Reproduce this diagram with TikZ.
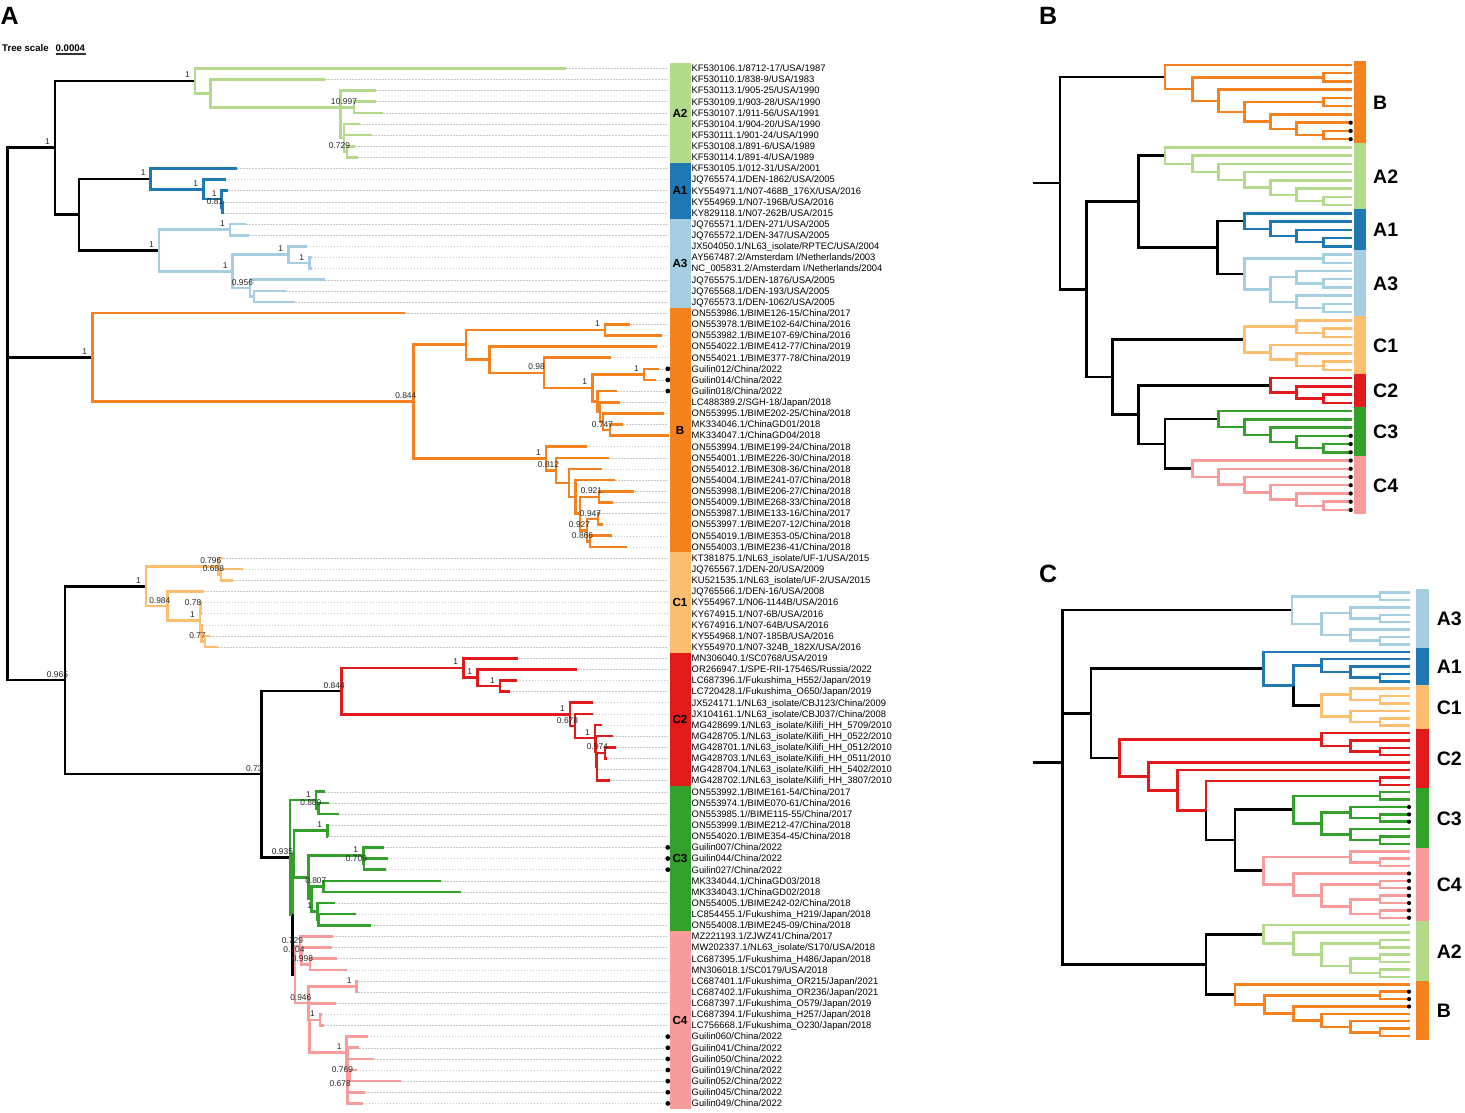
\documentclass[tikz,border=0pt]{standalone}
\usepackage{fontspec}
\setmainfont{Liberation Sans}
\usetikzlibrary{calc}
\definecolor{colA2}{HTML}{B2DA8A}
\definecolor{colA1}{HTML}{1F78B4}
\definecolor{colA3}{HTML}{A6CEE3}
\definecolor{colB}{HTML}{F5821F}
\definecolor{colC1}{HTML}{FDBF6F}
\definecolor{colC2}{HTML}{E31A1C}
\definecolor{colC3}{HTML}{33A02C}
\definecolor{colC4}{HTML}{F79C9A}
\newcommand\tnode[4]{\path let \p1=($(#3)!0.5!(#4)$) in (#2pt,\y1) coordinate (#1);}
\newcommand\edges[3]{\foreach \ch in {#3} \draw[#1] (#2) |- (\ch);}
\newcommand\la[2]{\coordinate (a#1) at (#2,{68.3+11.13*#1});}
\newcommand\lab[2]{\node[lbl] (t#1) at (691.5,{68.3+11.13*#1+3.35}) {#2};}
\newcommand\bs[2]{\node[bsl] (s#1) at ($(#1)+(-7.5,-3)$) {#2};}
\newcommand\gA[4]{\fill[#1] (669.5,{68.3+11.13*#2-5.565}) rectangle (690.5,{68.3+11.13*#3+5.565});
  \node[gla] (lbA#4) at (680,{68.3+11.13*(#2+#3)/2+4.2}) {#4};}
\newcommand\gB[4]{\fill[#1] (1354,{65+8.24*#2-4.12}) rectangle (1365.5,{65+8.24*#3+4.12});
  \node[glb] (lbB#4) at (1373,{65+8.24*(#2+#3)/2+7}) {#4};}
\newcommand\gC[4]{\fill[#1] (1416,{592.67+7.389*#2-3.69}) rectangle (1429,{592.67+7.389*#3+3.69});
  \node[glb] (lbC#4) at (1436.7,{592.67+7.389*(#2+#3)/2+7}) {#4};}
\begin{document}
\begin{tikzpicture}[x=1pt,y=-1pt,
  br/.style={line width=2.6pt},
  w2/.style={line width=2.5pt},
  bk/.style={br,black},
  eA2/.style={br,colA2}, eA1/.style={br,colA1}, eA3/.style={br,colA3},
  eB/.style={br,colB}, eC1/.style={br,colC1}, eC2/.style={br,colC2},
  eC3/.style={br,colC3}, eC4/.style={br,colC4},
  lead/.style={draw=black!22,line width=0.5pt,dash pattern=on 1.5pt off 1.5pt},
  lbl/.style={anchor=base west,inner sep=0pt,font=\fontsize{9.4}{11}\selectfont},
  bsl/.style={anchor=base,inner sep=0pt,text=black!85,font=\fontsize{8.4}{10}\selectfont},
  gla/.style={anchor=base,inner sep=0pt,font=\fontsize{11.7}{14}\selectfont\bfseries},
  glb/.style={anchor=base west,inner sep=0pt,font=\fontsize{19.5}{22}\selectfont\bfseries},
  pan/.style={anchor=base west,inner sep=0pt,font=\fontsize{25}{28}\selectfont\bfseries},
  dot/.style={fill=black}]
\useasboundingbox (0,0) rectangle (1465,1112);
\fill[white] (0,0) rectangle (1465,1112);
% ---------------- panel letters and scale
\node[pan] (pA) at (0.5,24) {A};
\node[pan] (pB) at (1039,24) {B};
\node[pan] (pC) at (1039,582) {C};
\node[anchor=base west,inner sep=0pt,font=\fontsize{9.6}{11}\selectfont\bfseries] (ts) at (2,51.5) {Tree scale};
\node[anchor=base west,inner sep=0pt,font=\fontsize{9.6}{11}\selectfont\bfseries] (tsv) at (55.5,51.5) {0.0004};
\coordinate (tsa) at (55.5,54);
\coordinate (tsb) at (86,54);
\draw[line width=1.5pt,black!80] (tsa) -- (tsb);
% ================= PANEL A leaves
\la{0}{566}\la{1}{325}\la{2}{376}\la{3}{376}\la{4}{383}\la{5}{360}\la{6}{372}\la{7}{355}\la{8}{358}
\la{9}{237.3}\la{10}{225.7}\la{11}{228.3}\la{12}{224}\la{13}{224}
\la{14}{246}\la{15}{249}\la{16}{306.7}\la{17}{311.7}\la{18}{311.7}\la{19}{325}\la{20}{286}\la{21}{295}
\la{22}{405}\la{23}{630}\la{24}{661.7}\la{25}{656.7}\la{26}{610.7}\la{27}{659.3}\la{28}{656}\la{29}{617.3}\la{30}{620}\la{31}{664.3}\la{32}{623.3}\la{33}{669}\la{34}{586.7}\la{35}{609.3}\la{36}{601.7}\la{37}{615}\la{38}{634}\la{39}{613.3}\la{40}{600}\la{41}{602.7}\la{42}{611.7}\la{43}{626.7}
\la{44}{223.3}\la{45}{242.7}\la{46}{233.3}\la{47}{204}\la{48}{201.5}\la{49}{201.5}\la{50}{202.5}\la{51}{210}\la{52}{218.3}
\la{53}{518.3}\la{54}{577.3}\la{55}{516.7}\la{56}{510}\la{57}{592.7}\la{58}{592.7}\la{59}{601.7}\la{60}{613.3}\la{61}{616}\la{62}{607.3}\la{63}{598}\la{64}{610}
\la{65}{325}\la{66}{329.3}\la{67}{339}\la{68}{329.3}\la{69}{328.3}\la{70}{384}\la{71}{387.7}\la{72}{385.7}\la{73}{441}\la{74}{461}\la{75}{335}\la{76}{355.7}\la{77}{371}
\la{78}{333.3}\la{79}{332.3}\la{80}{337.3}\la{81}{346.7}\la{82}{358.3}\la{83}{358.3}\la{84}{336}\la{85}{321.7}\la{86}{324}\la{87}{367.7}\la{88}{359.3}\la{89}{374}\la{90}{356.7}\la{91}{401}\la{92}{365.3}\la{93}{362.7}
% leaders
\foreach \i in {0,...,32} \draw[lead] (a\i) -- (668,{68.3+11.13*\i});
\foreach \i in {34,...,93} \draw[lead] (a\i) -- (668,{68.3+11.13*\i});
% internal nodes
\tnode{A2h}{347}{a7}{a8}
\tnode{A2e}{344}{a5}{A2h}
\tnode{A2f}{354}{a3}{a4}
\coordinate (A2c) at (340.6,107.3);
\tnode{A2b}{210.5}{a1}{A2c}
\tnode{A2}{195}{a0}{A2b}
\tnode{A1d}{222.5}{a12}{a13}
\tnode{A1c}{221.7}{a11}{A1d}
\tnode{A1b}{203.3}{a10}{A1c}
\tnode{A1}{150.7}{a9}{A1b}
\tnode{A3f}{254}{a20}{a21}
\tnode{A3d}{250}{a19}{A3f}
\tnode{A3e}{309.3}{a17}{a18}
\tnode{A3c}{288.3}{a16}{A3e}
\tnode{A3b}{232.7}{A3c}{A3d}
\tnode{A3a}{230}{a14}{a15}
\tnode{A3}{159}{A3a}{A3b}
\tnode{A13}{79}{A1}{A3}
\tnode{AA}{55}{A2}{A13}
\tnode{Bu9}{610}{a32}{a33}
\tnode{Bu8}{603}{a31}{Bu9}
\tnode{Bu7}{600}{a30}{Bu8}
\tnode{Bu6}{597.3}{a29}{Bu7}
\tnode{Bu5}{644}{a27}{a28}
\tnode{Bu4}{592.3}{Bu5}{Bu6}
\tnode{Bu3}{544}{a26}{Bu4}
\tnode{Bu2}{489.3}{a25}{Bu3}
\tnode{Bu1}{605}{a23}{a24}
\tnode{Bu}{466}{Bu1}{Bu2}
\tnode{N866}{590}{a42}{a43}
\tnode{N947}{598}{a40}{a41}
\tnode{Bl5}{587}{N947}{N866}
\tnode{N921}{599}{a38}{a39}
\tnode{Bl4}{580}{N921}{Bl5}
\tnode{Bl3}{575.7}{a37}{Bl4}
\tnode{Bl2}{569}{a36}{Bl3}
\tnode{Bl1}{556}{a35}{Bl2}
\tnode{Bl}{546}{a34}{Bl1}
\tnode{Bd}{413.3}{Bu}{Bl}
\tnode{BB}{92.3}{a22}{Bd}
\tnode{C1b}{221}{a45}{a46}
\tnode{C1a}{218.3}{a44}{C1b}
\tnode{N078}{200.5}{a48}{a49}
\tnode{N077}{205}{a51}{a52}
\tnode{C1f}{201.7}{a50}{N077}
\tnode{C1e}{200}{N078}{C1f}
\tnode{C1d}{167.3}{a47}{C1e}
\tnode{C1}{146}{C1a}{C1d}
\tnode{C2c}{500}{a55}{a56}
\tnode{C2b}{477.3}{a54}{C2c}
\tnode{C2a}{463.3}{a53}{C2b}
\tnode{N6162}{605}{a61}{a62}
\tnode{Yc2}{597}{N6162}{a64}
\tnode{Xc2}{596}{a60}{Yc2}
\tnode{C2f}{595}{a59}{Xc2}
\tnode{C2e}{575}{a58}{C2f}
\tnode{C2d}{570}{a57}{C2e}
\tnode{C2}{341.7}{C2a}{C2d}
\tnode{G1b}{318.3}{a66}{a67}
\tnode{G1}{316}{a65}{G1b}
\tnode{G2}{327.3}{a68}{a69}
\tnode{G3b}{364}{a71}{a72}
\tnode{G3}{363.3}{a70}{G3b}
\tnode{G4}{323.3}{a73}{a74}
\tnode{G5b}{318.5}{a76}{a77}
\tnode{G5}{317.3}{a75}{G5b}
\tnode{G6}{311.7}{G4}{G5}
\tnode{G7}{308.3}{G3}{G6}
\tnode{G8}{294}{G2}{G7}
\tnode{N998}{310}{a80}{a81}
\tnode{N704}{301.5}{a79}{N998}
\tnode{N729}{300}{a78}{N704}
\tnode{N1a}{356.7}{a82}{a83}
\tnode{N1b}{320}{a85}{a86}
\tnode{N769}{350}{a90}{a91}
\tnode{N678}{347.7}{N769}{a93}
\tnode{X4}{347.2}{a88}{N678}
\tnode{N1c}{346.7}{a87}{X4}
\tnode{Y2}{309.2}{N1b}{N1c}
\tnode{Y4}{308.8}{a84}{Y2}
\tnode{N946}{308.3}{N1a}{Y4}
\tnode{C4}{295}{N729}{N946}
\tnode{Z}{292.3}{G8}{C4}
\tnode{N935}{290}{G1}{Z}
\tnode{C234}{261.7}{C2}{N935}
\tnode{CC}{65}{C1}{C234}
\tnode{Rt}{7.3}{AA}{CC}
% edges: black backbone
\edges{bk}{Rt}{AA,BB,CC}
\edges{bk}{AA}{A2,A13}
\edges{bk}{A13}{A1,A3}
\edges{bk}{CC}{C1,C234}
\edges{bk}{C234}{C2,N935}
\edges{bk}{Z}{C4}
% A2
\edges{eA2}{A2}{a0,A2b}
\edges{eA2}{A2b}{a1,A2c}
\edges{eA2}{A2c}{a2,A2f,A2e}
\edges{eA2}{A2f}{a3,a4}
\edges{eA2}{A2e}{a5,a6,A2h}
\edges{eA2}{A2h}{a7,a8}
% A1
\edges{eA1}{A1}{a9,A1b}
\edges{eA1}{A1b}{a10,A1c}
\edges{eA1}{A1c}{a11,A1d}
\edges{eA1}{A1d}{a12,a13}
% A3
\edges{eA3}{A3}{A3a,A3b}
\edges{eA3}{A3a}{a14,a15}
\edges{eA3}{A3b}{A3c,A3d}
\edges{eA3}{A3c}{a16,A3e}
\edges{eA3}{A3e}{a17,a18}
\edges{eA3}{A3d}{a19,A3f}
\edges{eA3}{A3f}{a20,a21}
% B
\edges{eB}{BB}{a22,Bd}
\edges{eB}{Bd}{Bu,Bl}
\edges{eB}{Bu}{Bu1,Bu2}
\edges{eB}{Bu1}{a23,a24}
\edges{eB}{Bu2}{a25,Bu3}
\edges{eB}{Bu3}{a26,Bu4}
\edges{eB}{Bu4}{Bu5,Bu6}
\edges{eB}{Bu5}{a27,a28}
\edges{eB}{Bu6}{a29,Bu7}
\edges{eB}{Bu7}{a30,Bu8}
\edges{eB}{Bu8}{a31,Bu9}
\edges{eB}{Bu9}{a32,a33}
\edges{eB}{Bl}{a34,Bl1}
\edges{eB}{Bl1}{a35,Bl2}
\edges{eB}{Bl2}{a36,Bl3}
\edges{eB}{Bl3}{a37,Bl4}
\edges{eB}{Bl4}{N921,Bl5}
\edges{eB}{N921}{a38,a39}
\edges{eB}{Bl5}{N947,N866}
\edges{eB}{N947}{a40,a41}
\edges{eB}{N866}{a42,a43}
% C1
\edges{eC1}{C1}{C1a,C1d}
\edges{eC1}{C1a}{a44,C1b}
\edges{eC1}{C1b}{a45,a46}
\edges{eC1}{C1d}{a47,C1e}
\edges{eC1}{C1e}{N078,C1f}
\edges{eC1}{N078}{a48,a49}
\edges{eC1}{C1f}{a50,N077}
\edges{eC1}{N077}{a51,a52}
% C2
\edges{eC2}{C2}{C2a,C2d}
\edges{eC2}{C2a}{a53,C2b}
\edges{eC2}{C2b}{a54,C2c}
\edges{eC2}{C2c}{a55,a56}
\edges{eC2}{C2d}{a57,C2e}
\edges{eC2}{C2e}{a58,C2f}
\edges{eC2}{C2f}{a59,Xc2}
\edges{eC2}{Xc2}{a60,Yc2}
\edges{eC2}{Yc2}{N6162,a63,a64}
\edges{eC2}{N6162}{a61,a62}
% C3
\edges{eC3}{N935}{G1,Z}
\edges{eC3}{Z}{G8}
\edges{eC3}{G1}{a65,G1b}
\edges{eC3}{G1b}{a66,a67}
\edges{eC3}{G8}{G2,G7}
\edges{eC3}{G2}{a68,a69}
\edges{eC3}{G7}{G3,G6}
\edges{eC3}{G3}{a70,G3b}
\edges{eC3}{G3b}{a71,a72}
\edges{eC3}{G6}{G4,G5}
\edges{eC3}{G4}{a73,a74}
\edges{eC3}{G5}{a75,G5b}
\edges{eC3}{G5b}{a76,a77}
% C4
\edges{eC4}{C4}{N729,N946}
\edges{eC4}{N729}{a78,N704}
\edges{eC4}{N704}{a79,N998}
\edges{eC4}{N998}{a80,a81}
\edges{eC4}{N946}{N1a,Y4}
\edges{eC4}{N1a}{a82,a83}
\edges{eC4}{Y4}{a84,Y2}
\edges{eC4}{Y2}{N1b,N1c}
\edges{eC4}{N1b}{a85,a86}
\edges{eC4}{N1c}{a87,X4}
\edges{eC4}{X4}{a88,a89,N678}
\edges{eC4}{N678}{N769,a92,a93}
\edges{eC4}{N769}{a90,a91}
% support values
\bs{AA}{1}\bs{A2}{1}\bs{A2c}{1}\bs{A2f}{0.997}\bs{A2h}{0.729}
\bs{A1}{1}\bs{A1b}{1}\bs{A1c}{1}\bs{A1d}{0.81}
\bs{A3}{1}\bs{A3a}{1}\bs{A3b}{1}\bs{A3c}{1}\bs{A3e}{1}\bs{A3d}{0.956}
\bs{BB}{1}\bs{Bd}{0.844}\bs{Bu1}{1}\bs{Bu3}{0.98}\bs{Bu4}{1}\bs{Bu5}{1}\bs{Bu9}{0.747}
\bs{Bl}{1}\bs{Bl1}{0.812}\bs{N921}{0.921}\bs{N947}{0.947}\bs{Bl5}{0.927}\bs{N866}{0.866}
\bs{CC}{0.965}\bs{C1}{1}\bs{C1a}{0.796}\bs{C1b}{0.688}\bs{C1d}{0.984}\bs{N078}{0.78}\bs{C1e}{1}\bs{N077}{0.77}
\bs{C234}{0.73}\bs{C2}{0.844}\bs{C2a}{1}\bs{C2b}{1}\bs{C2c}{1}\bs{C2d}{1}\bs{C2e}{0.678}\bs{C2f}{1}\bs{N6162}{0.974}
\bs{N935}{0.935}\bs{G1}{1}\bs{G1b}{0.889}\bs{G2}{1}\bs{G3}{1}\bs{G3b}{0.709}\bs{G4}{0.807}\bs{G5}{1}
\bs{N729}{0.729}\bs{N704}{0.704}\bs{N998}{0.998}\bs{N946}{0.946}\bs{N1a}{1}\bs{N1b}{1}\bs{N1c}{1}\bs{N769}{0.769}\bs{N678}{0.678}
% bars
\gA{colA2}{0}{8}{A2}
\gA{colA1}{9}{13}{A1}
\gA{colA3}{14}{21}{A3}
\gA{colB}{22}{43}{B}
\gA{colC1}{44}{52}{C1}
\gA{colC2}{53}{64}{C2}
\gA{colC3}{65}{77}{C3}
\gA{colC4}{78}{93}{C4}
\foreach \i in {27,28,29,70,71,72,87,88,89,90,91,92,93} \fill[dot] (667.8,{68.3+11.13*\i}) circle (2.4);
% labels
\lab{0}{KF530106.1/8712-17/USA/1987}
\lab{1}{KF530110.1/838-9/USA/1983}
\lab{2}{KF530113.1/905-25/USA/1990}
\lab{3}{KF530109.1/903-28/USA/1990}
\lab{4}{KF530107.1/911-56/USA/1991}
\lab{5}{KF530104.1/904-20/USA/1990}
\lab{6}{KF530111.1/901-24/USA/1990}
\lab{7}{KF530108.1/891-6/USA/1989}
\lab{8}{KF530114.1/891-4/USA/1989}
\lab{9}{KF530105.1/012-31/USA/2001}
\lab{10}{JQ765574.1/DEN-1862/USA/2005}
\lab{11}{KY554971.1/N07-468B\_176X/USA/2016}
\lab{12}{KY554969.1/N07-196B/USA/2016}
\lab{13}{KY829118.1/N07-262B/USA/2015}
\lab{14}{JQ765571.1/DEN-271/USA/2005}
\lab{15}{JQ765572.1/DEN-347/USA/2005}
\lab{16}{JX504050.1/NL63\_isolate/RPTEC/USA/2004}
\lab{17}{AY567487.2/Amsterdam I/Netherlands/2003}
\lab{18}{NC\_005831.2/Amsterdam I/Netherlands/2004}
\lab{19}{JQ765575.1/DEN-1876/USA/2005}
\lab{20}{JQ765568.1/DEN-193/USA/2005}
\lab{21}{JQ765573.1/DEN-1062/USA/2005}
\lab{22}{ON553986.1/BIME126-15/China/2017}
\lab{23}{ON553978.1/BIME102-64/China/2016}
\lab{24}{ON553982.1/BIME107-69/China/2016}
\lab{25}{ON554022.1/BIME412-77/China/2019}
\lab{26}{ON554021.1/BIME377-78/China/2019}
\lab{27}{Guilin012/China/2022}
\lab{28}{Guilin014/China/2022}
\lab{29}{Guilin018/China/2022}
\lab{30}{LC488389.2/SGH-18/Japan/2018}
\lab{31}{ON553995.1/BIME202-25/China/2018}
\lab{32}{MK334046.1/ChinaGD01/2018}
\lab{33}{MK334047.1/ChinaGD04/2018}
\lab{34}{ON553994.1/BIME199-24/China/2018}
\lab{35}{ON554001.1/BIME226-30/China/2018}
\lab{36}{ON554012.1/BIME308-36/China/2018}
\lab{37}{ON554004.1/BIME241-07/China/2018}
\lab{38}{ON553998.1/BIME206-27/China/2018}
\lab{39}{ON554009.1/BIME268-33/China/2018}
\lab{40}{ON553987.1/BIME133-16/China/2017}
\lab{41}{ON553997.1/BIME207-12/China/2018}
\lab{42}{ON554019.1/BIME353-05/China/2018}
\lab{43}{ON554003.1/BIME236-41/China/2018}
\lab{44}{KT381875.1/NL63\_isolate/UF-1/USA/2015}
\lab{45}{JQ765567.1/DEN-20/USA/2009}
\lab{46}{KU521535.1/NL63\_isolate/UF-2/USA/2015}
\lab{47}{JQ765566.1/DEN-16/USA/2008}
\lab{48}{KY554967.1/N06-1144B/USA/2016}
\lab{49}{KY674915.1/N07-6B/USA/2016}
\lab{50}{KY674916.1/N07-64B/USA/2016}
\lab{51}{KY554968.1/N07-185B/USA/2016}
\lab{52}{KY554970.1/N07-324B\_182X/USA/2016}
\lab{53}{MN306040.1/SC0768/USA/2019}
\lab{54}{OR266947.1/SPE-RII-17546S/Russia/2022}
\lab{55}{LC687396.1/Fukushima\_H552/Japan/2019}
\lab{56}{LC720428.1/Fukushima\_O650/Japan/2019}
\lab{57}{JX524171.1/NL63\_isolate/CBJ123/China/2009}
\lab{58}{JX104161.1/NL63\_isolate/CBJ037/China/2008}
\lab{59}{MG428699.1/NL63\_isolate/Kilifi\_HH\_5709/2010}
\lab{60}{MG428705.1/NL63\_isolate/Kilifi\_HH\_0522/2010}
\lab{61}{MG428701.1/NL63\_isolate/Kilifi\_HH\_0512/2010}
\lab{62}{MG428703.1/NL63\_isolate/Kilifi\_HH\_0511/2010}
\lab{63}{MG428704.1/NL63\_isolate/Kilifi\_HH\_5402/2010}
\lab{64}{MG428702.1/NL63\_isolate/Kilifi\_HH\_3807/2010}
\lab{65}{ON553992.1/BIME161-54/China/2017}
\lab{66}{ON553974.1/BIME070-61/China/2016}
\lab{67}{ON553985.1//BIME115-55/China/2017}
\lab{68}{ON553999.1/BIME212-47/China/2018}
\lab{69}{ON554020.1/BIME354-45/China/2018}
\lab{70}{Guilin007/China/2022}
\lab{71}{Guilin044/China/2022}
\lab{72}{Guilin027/China/2022}
\lab{73}{MK334044.1/ChinaGD03/2018}
\lab{74}{MK334043.1/ChinaGD02/2018}
\lab{75}{ON554005.1/BIME242-02/China/2018}
\lab{76}{LC854455.1/Fukushima\_H219/Japan/2018}
\lab{77}{ON554008.1/BIME245-09/China/2018}
\lab{78}{MZ221193.1/ZJWZ41/China/2017}
\lab{79}{MW202337.1/NL63\_isolate/S170/USA/2018}
\lab{80}{LC687395.1/Fukushima\_H486/Japan/2018}
\lab{81}{MN306018.1/SC0179/USA/2018}
\lab{82}{LC687401.1/Fukushima\_OR215/Japan/2021}
\lab{83}{LC687402.1/Fukushima\_OR236/Japan/2021}
\lab{84}{LC687397.1/Fukushima\_O579/Japan/2019}
\lab{85}{LC687394.1/Fukushima\_H257/Japan/2018}
\lab{86}{LC756668.1/Fukushima\_O230/Japan/2018}
\lab{87}{Guilin060/China/2022}
\lab{88}{Guilin041/China/2022}
\lab{89}{Guilin050/China/2022}
\lab{90}{Guilin019/China/2022}
\lab{91}{Guilin052/China/2022}
\lab{92}{Guilin045/China/2022}
\lab{93}{Guilin049/China/2022}
% ================= PANEL B
\foreach \j in {0,...,54} \coordinate (b\j) at (1351.7,{65+8.24*\j});
\tnode{bO6a}{1323.3}{b8}{b9}
\tnode{bO6}{1296.7}{b7}{bO6a}
\tnode{bO5}{1270.7}{b6}{bO6}
\tnode{bO4a}{1323.3}{b4}{b5}
\tnode{bO4}{1244.3}{bO4a}{bO5}
\tnode{bO3}{1218.3}{b3}{bO4}
\tnode{bO2a}{1323.3}{b1}{b2}
\tnode{bO2}{1192.3}{bO2a}{bO3}
\tnode{bO1}{1165}{b0}{bO2}
\tnode{bG6}{1323.3}{b16}{b17}
\tnode{bG5}{1296.7}{b15}{bG6}
\tnode{bG4}{1270.7}{b14}{bG5}
\tnode{bG3}{1244.3}{b13}{bG4}
\tnode{bG2}{1218.3}{b12}{bG3}
\tnode{bG1}{1192.3}{b11}{bG2}
\tnode{bG0}{1165}{b10}{bG1}
\tnode{bU6}{1323.3}{b21}{b22}
\tnode{bU5}{1296.7}{b20}{bU6}
\tnode{bU4}{1270.7}{b19}{bU5}
\tnode{bU3}{1244.3}{b18}{bU4}
\tnode{bL6a}{1323.3}{b23}{b24}
\tnode{bL6b}{1323.3}{b26}{b27}
\tnode{bL5a}{1296.7}{b25}{bL6b}
\tnode{bL6c}{1323.3}{b29}{b30}
\tnode{bL5b}{1296.7}{b28}{bL6c}
\tnode{bL4}{1270.7}{bL5a}{bL5b}
\tnode{bL3}{1244.3}{bL6a}{bL4}
\tnode{bXa13}{1217.7}{bU3}{bL3}
\tnode{bXa}{1138.3}{bG0}{bXa13}
\tnode{bY6a}{1323.3}{b32}{b33}
\tnode{bY5a}{1296.7}{b31}{bY6a}
\tnode{bY6b}{1323.3}{b36}{b37}
\tnode{bY5b}{1296.7}{b35}{bY6b}
\tnode{bY4}{1270.7}{b34}{bY5b}
\tnode{bY3}{1244.3}{bY5a}{bY4}
\tnode{bR6}{1323.3}{b40}{b41}
\tnode{bR5}{1296.7}{b39}{bR6}
\tnode{bR4}{1270.7}{b38}{bR5}
\tnode{bE6}{1323.3}{b46}{b47}
\tnode{bE5}{1296.7}{b45}{bE6}
\tnode{bE4}{1270.7}{b44}{bE5}
\tnode{bE3}{1244.3}{b43}{bE4}
\tnode{bE2}{1218.3}{b42}{bE3}
\tnode{bP6}{1323.3}{b53}{b54}
\tnode{bP5}{1296.7}{b52}{bP6}
\tnode{bP4}{1270.7}{b51}{bP5}
\tnode{bP3}{1244.3}{b50}{bP4}
\tnode{bP2}{1218.3}{b49}{bP3}
\tnode{bP1}{1192.3}{b48}{bP2}
\tnode{bXc34}{1165}{bE2}{bP1}
\tnode{bXc234}{1138.3}{bR4}{bXc34}
\tnode{bXc}{1112.7}{bY3}{bXc234}
\tnode{bXac}{1086.7}{bXa}{bXc}
\tnode{bXr}{1060}{bO1}{bXac}
\coordinate (bS) at ($(bXr)+(-26.7,0)$);
\draw[bk,w2] (bS) -- (bXr);
\edges{bk,w2}{bXr}{bO1,bXac}
\edges{bk,w2}{bXac}{bXa,bXc}
\edges{bk,w2}{bXa}{bG0,bXa13}
\edges{bk,w2}{bXa13}{bU3,bL3}
\edges{bk,w2}{bXc}{bY3,bXc234}
\edges{bk,w2}{bXc234}{bR4,bXc34}
\edges{bk,w2}{bXc34}{bE2,bP1}
\edges{eB,w2}{bO1}{b0,bO2}
\edges{eB,w2}{bO2}{bO2a,bO3}
\edges{eB,w2}{bO2a}{b1,b2}
\edges{eB,w2}{bO3}{b3,bO4}
\edges{eB,w2}{bO4}{bO4a,bO5}
\edges{eB,w2}{bO4a}{b4,b5}
\edges{eB,w2}{bO5}{b6,bO6}
\edges{eB,w2}{bO6}{b7,bO6a}
\edges{eB,w2}{bO6a}{b8,b9}
\edges{eA2,w2}{bG0}{b10,bG1}
\edges{eA2,w2}{bG1}{b11,bG2}
\edges{eA2,w2}{bG2}{b12,bG3}
\edges{eA2,w2}{bG3}{b13,bG4}
\edges{eA2,w2}{bG4}{b14,bG5}
\edges{eA2,w2}{bG5}{b15,bG6}
\edges{eA2,w2}{bG6}{b16,b17}
\edges{eA1,w2}{bU3}{b18,bU4}
\edges{eA1,w2}{bU4}{b19,bU5}
\edges{eA1,w2}{bU5}{b20,bU6}
\edges{eA1,w2}{bU6}{b21,b22}
\edges{eA3,w2}{bL3}{bL6a,bL4}
\edges{eA3,w2}{bL6a}{b23,b24}
\edges{eA3,w2}{bL4}{bL5a,bL5b}
\edges{eA3,w2}{bL5a}{b25,bL6b}
\edges{eA3,w2}{bL6b}{b26,b27}
\edges{eA3,w2}{bL5b}{b28,bL6c}
\edges{eA3,w2}{bL6c}{b29,b30}
\edges{eC1,w2}{bY3}{bY5a,bY4}
\edges{eC1,w2}{bY5a}{b31,bY6a}
\edges{eC1,w2}{bY6a}{b32,b33}
\edges{eC1,w2}{bY4}{b34,bY5b}
\edges{eC1,w2}{bY5b}{b35,bY6b}
\edges{eC1,w2}{bY6b}{b36,b37}
\edges{eC2,w2}{bR4}{b38,bR5}
\edges{eC2,w2}{bR5}{b39,bR6}
\edges{eC2,w2}{bR6}{b40,b41}
\edges{eC3,w2}{bE2}{b42,bE3}
\edges{eC3,w2}{bE3}{b43,bE4}
\edges{eC3,w2}{bE4}{b44,bE5}
\edges{eC3,w2}{bE5}{b45,bE6}
\edges{eC3,w2}{bE6}{b46,b47}
\edges{eC4,w2}{bP1}{b48,bP2}
\edges{eC4,w2}{bP2}{b49,bP3}
\edges{eC4,w2}{bP3}{b50,bP4}
\edges{eC4,w2}{bP4}{b51,bP5}
\edges{eC4,w2}{bP5}{b52,bP6}
\edges{eC4,w2}{bP6}{b53,b54}
\gB{colB}{0}{9}{B}
\gB{colA2}{10}{17}{A2}
\gB{colA1}{18}{22}{A1}
\gB{colA3}{23}{30}{A3}
\gB{colC1}{31}{37}{C1}
\gB{colC2}{38}{41}{C2}
\gB{colC3}{42}{47}{C3}
\gB{colC4}{48}{54}{C4}
\foreach \j in {7,8,9,45,46,47,48,49,50,51,52,53,54} \fill[dot] (1350.7,{65+8.24*\j}) circle (2.1);
% ================= PANEL C
\foreach \k in {0,...,60} \coordinate (c\k) at (1410,{592.67+7.389*\k});
\tnode{cA3a}{1380}{c0}{c1}
\tnode{cA3b}{1380}{c3}{c4}
\tnode{cA3c}{1350.7}{c2}{cA3b}
\tnode{cA3d}{1380}{c6}{c7}
\tnode{cA3e}{1350.7}{c5}{cA3d}
\tnode{cA3f}{1321.7}{cA3c}{cA3e}
\tnode{cA3}{1292}{cA3a}{cA3f}
\tnode{cA1a}{1380}{c11}{c12}
\tnode{cA1b}{1350.7}{c10}{cA1a}
\tnode{cA1c}{1321.7}{c9}{cA1b}
\tnode{cC1a}{1380}{c14}{c15}
\tnode{cC1b}{1350.7}{c13}{cC1a}
\tnode{cC1c}{1380}{c17}{c18}
\tnode{cC1d}{1350.7}{c16}{cC1c}
\tnode{cC1}{1321.7}{cC1b}{cC1d}
\tnode{cA1d}{1293.3}{cA1c}{cC1}
\tnode{cA1}{1263.3}{c8}{cA1d}
\tnode{cC2a}{1380}{c21}{c22}
\tnode{cC2b}{1350.7}{c20}{cC2a}
\tnode{cC2c}{1321.7}{c19}{cC2b}
\tnode{cC3a}{1380}{c27}{c28}
\tnode{cC3b}{1380}{c30}{c31}
\tnode{cC3c}{1350.7}{c29}{cC3b}
\tnode{cC3d}{1380}{c33}{c34}
\tnode{cC3e}{1350.7}{c32}{cC3d}
\tnode{cC3f}{1321.7}{cC3c}{cC3e}
\tnode{cC3}{1293.3}{cC3a}{cC3f}
\tnode{cC4a}{1380}{c36}{c37}
\tnode{cC4b}{1350.7}{c35}{cC4a}
\tnode{cC4c}{1380}{c39}{c40}
\tnode{cC4d}{1380}{c41}{c42}
\tnode{cC4e}{1380}{c43}{c44}
\tnode{cC4f}{1350.7}{cC4d}{cC4e}
\tnode{cC4g}{1321.7}{cC4c}{cC4f}
\tnode{cC4h}{1293.3}{c38}{cC4g}
\tnode{cC4}{1263.3}{cC4b}{cC4h}
\tnode{cC34}{1235}{cC3}{cC4}
\tnode{cC2d}{1380}{c25}{c26}
\tnode{cN528}{1206}{cC2d}{cC34}
\tnode{cN442}{1177.3}{c24}{cN528}
\tnode{cN355}{1148.3}{c23}{cN442}
\tnode{cC2}{1119.3}{cC2c}{cN355}
\tnode{cX1}{1091}{cA1}{cC2}
\tnode{cA2a}{1380}{c47}{c48}
\tnode{cA2b}{1380}{c49}{c50}
\tnode{cA2c}{1380}{c51}{c52}
\tnode{cA2d}{1350.7}{cA2b}{cA2c}
\tnode{cA2e}{1321.7}{cA2a}{cA2d}
\tnode{cA2f}{1293.3}{c46}{cA2e}
\tnode{cA2}{1263.3}{c45}{cA2f}
\tnode{cBa}{1380}{c59}{c60}
\tnode{cBb}{1350.7}{c58}{cBa}
\tnode{cBc}{1321.7}{c57}{cBb}
\tnode{cBd}{1293.3}{c56}{cBc}
\tnode{cBe}{1380}{c54}{c55}
\tnode{cBf}{1264.5}{cBe}{cBd}
\tnode{cB}{1235}{c53}{cBf}
\tnode{cAB}{1206}{cA2}{cB}
\path let \p1=(cA3),\p2=(cX1),\p3=(cAB) in (1062.3pt,{(\y1+\y2+\y3)/3}) coordinate (cR);
\coordinate (cS) at ($(cR)+(-29,0)$);
\draw[bk,w2] (cS) -- (cR);
\edges{bk,w2}{cR}{cA3,cX1,cAB}
\edges{bk,w2}{cX1}{cA1,cC2}
\edges{bk,w2}{cAB}{cA2,cB}
\edges{bk,w2}{cA1d}{cC1}
\edges{bk,w2}{cN528}{cC34}
\edges{bk,w2}{cC34}{cC3,cC4}
\edges{eA3,w2}{cA3}{cA3a,cA3f}
\edges{eA3,w2}{cA3a}{c0,c1}
\edges{eA3,w2}{cA3f}{cA3c,cA3e}
\edges{eA3,w2}{cA3c}{c2,cA3b}
\edges{eA3,w2}{cA3b}{c3,c4}
\edges{eA3,w2}{cA3e}{c5,cA3d}
\edges{eA3,w2}{cA3d}{c6,c7}
\edges{eA1,w2}{cA1}{c8,cA1d}
\edges{eA1,w2}{cA1d}{cA1c}
\edges{eA1,w2}{cA1c}{c9,cA1b}
\edges{eA1,w2}{cA1b}{c10,cA1a}
\edges{eA1,w2}{cA1a}{c11,c12}
\edges{eC1,w2}{cC1}{cC1b,cC1d}
\edges{eC1,w2}{cC1b}{c13,cC1a}
\edges{eC1,w2}{cC1a}{c14,c15}
\edges{eC1,w2}{cC1d}{c16,cC1c}
\edges{eC1,w2}{cC1c}{c17,c18}
\edges{eC2,w2}{cC2}{cC2c,cN355}
\edges{eC2,w2}{cC2c}{c19,cC2b}
\edges{eC2,w2}{cC2b}{c20,cC2a}
\edges{eC2,w2}{cC2a}{c21,c22}
\edges{eC2,w2}{cN355}{c23,cN442}
\edges{eC2,w2}{cN442}{c24,cN528}
\edges{eC2,w2}{cN528}{cC2d}
\edges{eC2,w2}{cC2d}{c25,c26}
\edges{eC3,w2}{cC3}{cC3a,cC3f}
\edges{eC3,w2}{cC3a}{c27,c28}
\edges{eC3,w2}{cC3f}{cC3c,cC3e}
\edges{eC3,w2}{cC3c}{c29,cC3b}
\edges{eC3,w2}{cC3b}{c30,c31}
\edges{eC3,w2}{cC3e}{c32,cC3d}
\edges{eC3,w2}{cC3d}{c33,c34}
\edges{eC4,w2}{cC4}{cC4b,cC4h}
\edges{eC4,w2}{cC4b}{c35,cC4a}
\edges{eC4,w2}{cC4a}{c36,c37}
\edges{eC4,w2}{cC4h}{c38,cC4g}
\edges{eC4,w2}{cC4g}{cC4c,cC4f}
\edges{eC4,w2}{cC4c}{c39,c40}
\edges{eC4,w2}{cC4f}{cC4d,cC4e}
\edges{eC4,w2}{cC4d}{c41,c42}
\edges{eC4,w2}{cC4e}{c43,c44}
\edges{eA2,w2}{cA2}{c45,cA2f}
\edges{eA2,w2}{cA2f}{c46,cA2e}
\edges{eA2,w2}{cA2e}{cA2a,cA2d}
\edges{eA2,w2}{cA2a}{c47,c48}
\edges{eA2,w2}{cA2d}{cA2b,cA2c}
\edges{eA2,w2}{cA2b}{c49,c50}
\edges{eA2,w2}{cA2c}{c51,c52}
\edges{eB,w2}{cB}{c53,cBf}
\edges{eB,w2}{cBf}{cBe,cBd}
\edges{eB,w2}{cBe}{c54,c55}
\edges{eB,w2}{cBd}{c56,cBc}
\edges{eB,w2}{cBc}{c57,cBb}
\edges{eB,w2}{cBb}{c58,cBa}
\edges{eB,w2}{cBa}{c59,c60}
\gC{colA3}{0}{7}{A3}
\gC{colA1}{8}{12}{A1}
\gC{colC1}{13}{18}{C1}
\gC{colC2}{19}{26}{C2}
\gC{colC3}{27}{34}{C3}
\gC{colC4}{35}{44}{C4}
\gC{colA2}{45}{52}{A2}
\gC{colB}{53}{60}{B}
\foreach \k in {29,30,31,38,39,40,41,42,43,44,54,55,56} \fill[dot] (1409,{592.67+7.389*\k}) circle (2.1);
\end{tikzpicture}
\end{document}
